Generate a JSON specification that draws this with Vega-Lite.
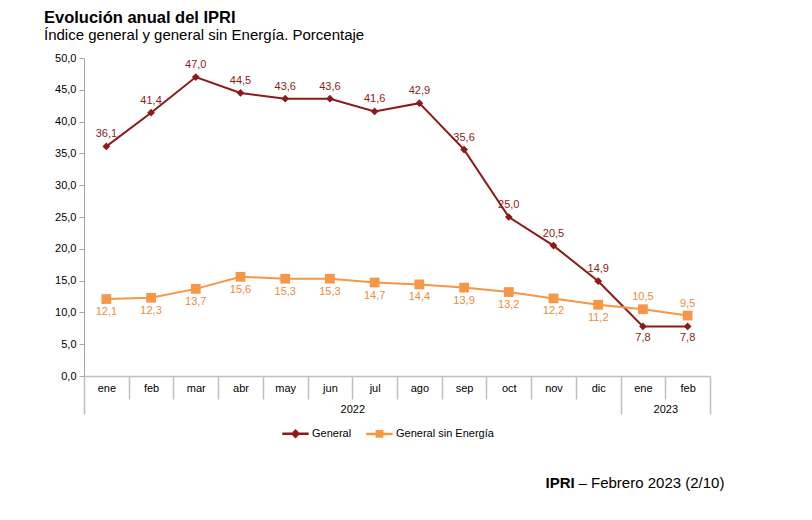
{
  "$schema": "https://vega.github.io/schema/vega-lite/v6.json",
  "autosize": "none",
  "width": 626,
  "height": 318,
  "padding": {"left": 84, "top": 58, "right": 102, "bottom": 144},
  "background": "white",
  "config": {
    "font": "Liberation Sans",
    "view": {"stroke": null},
    "axis": {"labelFont": "Liberation Sans", "titleFont": "Liberation Sans", "labelColor": "#000000", "grid": false}
  },
  "title": {
    "text": "Evolución anual del IPRI",
    "subtitle": "Índice general y general sin Energía. Porcentaje",
    "anchor": "start",
    "frame": "group",
    "dx": -40,
    "offset": 9,
    "font": "Liberation Sans",
    "fontSize": 16.5,
    "fontWeight": "bold",
    "color": "#000000",
    "subtitleFont": "Liberation Sans",
    "subtitleFontSize": 15,
    "subtitleColor": "#000000",
    "subtitlePadding": 2
  },
  "data": {
    "values": [
      {"mes": "2022|ene", "anio": 2022, "serie": "General", "valor": 36.1},
      {"mes": "2022|feb", "anio": 2022, "serie": "General", "valor": 41.4},
      {"mes": "2022|mar", "anio": 2022, "serie": "General", "valor": 47.0},
      {"mes": "2022|abr", "anio": 2022, "serie": "General", "valor": 44.5},
      {"mes": "2022|may", "anio": 2022, "serie": "General", "valor": 43.6},
      {"mes": "2022|jun", "anio": 2022, "serie": "General", "valor": 43.6},
      {"mes": "2022|jul", "anio": 2022, "serie": "General", "valor": 41.6},
      {"mes": "2022|ago", "anio": 2022, "serie": "General", "valor": 42.9},
      {"mes": "2022|sep", "anio": 2022, "serie": "General", "valor": 35.6},
      {"mes": "2022|oct", "anio": 2022, "serie": "General", "valor": 25.0},
      {"mes": "2022|nov", "anio": 2022, "serie": "General", "valor": 20.5},
      {"mes": "2022|dic", "anio": 2022, "serie": "General", "valor": 14.9},
      {"mes": "2023|ene", "anio": 2023, "serie": "General", "valor": 7.8},
      {"mes": "2023|feb", "anio": 2023, "serie": "General", "valor": 7.8},
      {"mes": "2022|ene", "anio": 2022, "serie": "General sin Energía", "valor": 12.1},
      {"mes": "2022|feb", "anio": 2022, "serie": "General sin Energía", "valor": 12.3},
      {"mes": "2022|mar", "anio": 2022, "serie": "General sin Energía", "valor": 13.7},
      {"mes": "2022|abr", "anio": 2022, "serie": "General sin Energía", "valor": 15.6},
      {"mes": "2022|may", "anio": 2022, "serie": "General sin Energía", "valor": 15.3},
      {"mes": "2022|jun", "anio": 2022, "serie": "General sin Energía", "valor": 15.3},
      {"mes": "2022|jul", "anio": 2022, "serie": "General sin Energía", "valor": 14.7},
      {"mes": "2022|ago", "anio": 2022, "serie": "General sin Energía", "valor": 14.4},
      {"mes": "2022|sep", "anio": 2022, "serie": "General sin Energía", "valor": 13.9},
      {"mes": "2022|oct", "anio": 2022, "serie": "General sin Energía", "valor": 13.2},
      {"mes": "2022|nov", "anio": 2022, "serie": "General sin Energía", "valor": 12.2},
      {"mes": "2022|dic", "anio": 2022, "serie": "General sin Energía", "valor": 11.2},
      {"mes": "2023|ene", "anio": 2023, "serie": "General sin Energía", "valor": 10.5},
      {"mes": "2023|feb", "anio": 2023, "serie": "General sin Energía", "valor": 9.5}
    ]
  },
  "resolve": {"scale": {"x": "independent"}, "axis": {"x": "independent"}},
  "layer": [
    {
      "layer": [
        {
          "mark": {"type": "line", "strokeWidth": 2},
          "encoding": {
            "color": {
              "field": "serie",
              "type": "nominal",
              "scale": {"domain": ["General", "General sin Energía"], "range": ["#8c1a1a", "#f79646"]},
              "legend": {
                "orient": "none",
                "legendX": 197,
                "legendY": 361,
                "direction": "horizontal",
                "title": null,
                "labelFont": "Liberation Sans",
                "labelFontSize": 11,
                "labelColor": "#000000",
                "symbolSize": 700,
                "symbolStrokeWidth": 2.5,
                "columnPadding": 9,
                "labelOffset": 2,
                "encode": {
                  "symbols": {
                    "update": {
                      "shape": {"signal": "datum.value == 'General' ? 'M-1,0H1M-0.22,0L0,-0.22L0.22,0L0,0.22Z' : 'M-1,0H1M-0.2,-0.2H0.2V0.2H-0.2Z'"},
                      "fill": {"signal": "datum.value == 'General' ? '#8c1a1a' : '#f79646'"},
                      "stroke": {"signal": "datum.value == 'General' ? '#8c1a1a' : '#f79646'"}
                    }
                  }
                }
              }
            }
          }
        },
        {
          "transform": [{"filter": "datum.serie == 'General'"}],
          "mark": {"type": "point", "shape": "diamond", "filled": true, "size": 60, "opacity": 1, "color": "#8c1a1a"},
          "encoding": {}
        },
        {
          "transform": [{"filter": "datum.serie != 'General'"}],
          "mark": {"type": "point", "shape": "square", "filled": true, "size": 95, "opacity": 1, "color": "#f79646"},
          "encoding": {}
        },
        {
          "transform": [{"filter": "datum.serie == 'General' && datum.anio == 2022"}],
          "mark": {"type": "text", "baseline": "bottom", "dy": -7, "fontSize": 11, "color": "#8c1a1a"},
          "encoding": {"text": {"field": "lab"}}
        },
        {
          "transform": [{"filter": "datum.serie == 'General' && datum.anio == 2023"}],
          "mark": {"type": "text", "baseline": "top", "dy": 6, "fontSize": 11, "color": "#8c1a1a"},
          "encoding": {"text": {"field": "lab"}}
        },
        {
          "transform": [{"filter": "datum.serie != 'General' && datum.anio == 2022"}],
          "mark": {"type": "text", "baseline": "top", "dy": 7, "fontSize": 11, "color": "#f08a3c"},
          "encoding": {"text": {"field": "lab"}}
        },
        {
          "transform": [{"filter": "datum.serie != 'General' && datum.anio == 2023"}],
          "mark": {"type": "text", "baseline": "bottom", "dy": -7, "fontSize": 11, "color": "#f08a3c"},
          "encoding": {"text": {"field": "lab"}}
        }
      ],
      "transform": [{"calculate": "replace(format(datum.valor, '.1f'), '.', ',')", "as": "lab"}],
      "encoding": {
        "x": {
          "field": "mes",
          "type": "ordinal",
          "sort": null,
          "scale": {"type": "band", "paddingInner": 0, "paddingOuter": 0},
          "axis": {
            "title": null,
            "labelExpr": "split(datum.value, '|')[1]",
            "labelAngle": 0,
            "labelFontSize": 11,
            "tickBand": "extent",
            "tickSize": 23,
            "tickColor": "#bfbfbf",
            "tickWidth": 1.5,
            "domainColor": "#bfbfbf",
            "domainWidth": 1.5,
            "labelPadding": -17
          }
        },
        "y": {
          "field": "valor",
          "type": "quantitative",
          "scale": {"domain": [0, 50], "nice": false},
          "axis": {
            "values": [0, 5, 10, 15, 20, 25, 30, 35, 40, 45, 50],
            "labelExpr": "replace(format(datum.value, '.1f'), '.', ',')",
            "labelFontSize": 11,
            "tickSize": 5,
            "tickColor": "#a6a6a6",
            "domainColor": "#a6a6a6",
            "labelPadding": 3,
            "title": "– Febrero 2023 (2/10)",
            "titleAngle": 0,
            "titleAlign": "left",
            "titleBaseline": "alphabetic",
            "titleX": 494,
            "titleY": 429,
            "titleFontSize": 15,
            "titleFontWeight": "normal",
            "titleColor": "#000000"
          }
        }
      }
    },
    {
      "mark": {"type": "rule", "opacity": 0},
      "encoding": {
        "x": {
          "datum": 0,
          "type": "quantitative",
          "scale": {"domain": [0, 14], "nice": false, "zero": false},
          "axis": {
            "orient": "bottom",
            "offset": 23,
            "values": [0, 6, 12, 13, 14],
            "domain": false,
            "tickSize": 15,
            "tickColor": "#bfbfbf",
            "tickWidth": 1.5,
            "tickOpacity": {"condition": {"test": "datum.value == 6 || datum.value == 13", "value": 0}, "value": 1},
            "labelExpr": "datum.value == 6 ? '2022' : datum.value == 13 ? '2023' : ''",
            "labelFontSize": 11,
            "labelPadding": -11,
            "labelFlush": false,
            "labelOverlap": false,
            "title": "IPRI",
            "titleX": 461,
            "titleY": 88,
            "titleAlign": "left",
            "titleBaseline": "alphabetic",
            "titleFontSize": 15,
            "titleFontWeight": "bold",
            "titleColor": "#000000"
          }
        }
      }
    }
  ]
}
